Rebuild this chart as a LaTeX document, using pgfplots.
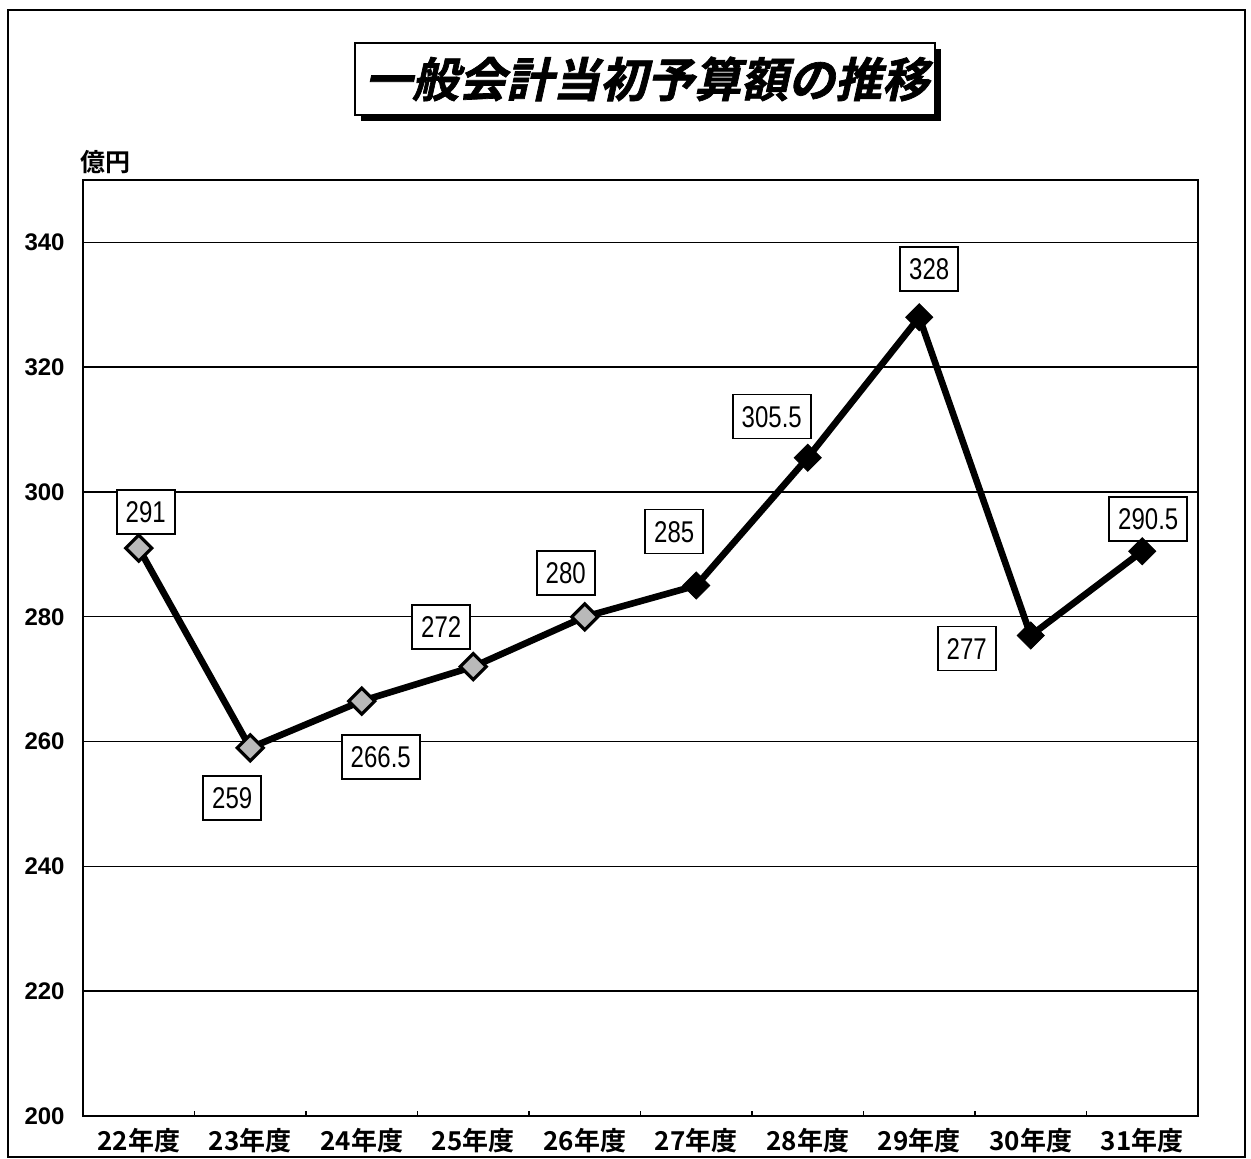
\documentclass[border=0pt]{standalone}
\usepackage{fontspec}
\usepackage{pgfplots}
\pgfplotsset{compat=1.18}
\setmainfont{Liberation Sans}
\newfontfamily\jp{Noto Sans CJK JP Bold}
\newfontfamily\jptitle{Noto Sans CJK JP Bold}[FakeSlant=0.22,FakeBold=1.5]
\newfontfamily\narrow{Liberation Sans}[FakeStretch=0.8]
\begin{document}
\begin{tikzpicture}[x=0.5pt,y=0.5pt]
\path[use as bounding box] (0,0) rectangle (1251,1159);
\draw[line width=1pt] (8,2) rectangle (1245,1149);
\fill[black] (361,1038) rectangle (941,1110);
\draw[line width=0.8pt, fill=white] (355,1044) rectangle (935,1116);
\node[font=\jptitle\fontsize{23.5}{23.5}\selectfont] at (647,1080) {一般会計当初予算額の推移};
\node[anchor=west, inner sep=0pt, font=\jp\fontsize{12.5}{12.5}\selectfont] at (80,997) {億円};
\begin{axis}[
  at={(41.5pt,21.5pt)}, anchor=south west,
  width=557.5pt, height=468pt, scale only axis,
  xmin=-0.5, xmax=9.5, ymin=200, ymax=350,
  ytick={200,220,...,340},
  xtick={0,...,9},
  xticklabels={22年度,23年度,24年度,25年度,26年度,27年度,28年度,29年度,30年度,31年度},
  minor xtick={0.5,1.5,...,8.5},
  xtick pos=bottom, ytick pos=left,
  ymajorgrids,
  major grid style={black, line width=0.7pt},
  major tick length=0pt, minor tick length=2.5pt,
  tick style={black, line width=0.6pt},
  axis line style={line width=1pt},
  /pgf/number format/assume math mode=true,
  yticklabel style={font=\bfseries\fontsize{12}{12}\selectfont, anchor=east, inner sep=0pt, xshift=-9pt},
  xticklabel style={font=\jp\fontsize{13}{13}\selectfont, anchor=base, inner sep=0pt, yshift=-17.5pt},
  clip=false,
]
\addplot[black, line width=3.3pt, line join=round, no marks] coordinates {
(0,291) (1,259) (2,266.5) (3,272) (4,280) (5,285) (6,305.5) (7,328) (8,277) (9,290.5)};
\addplot[only marks, mark=square*, mark size=4.6pt, mark options={rotate=45, fill=gray!55, draw=black, line width=1.6pt}] coordinates {
(0,291) (1,259) (2,266.5) (3,272) (4,280)};
\addplot[only marks, mark=square*, mark size=4.8pt, mark options={rotate=45, fill=black, draw=black}] coordinates {
(5,285) (6,305.5) (7,328) (8,277) (9,290.5)};
\tikzset{lbl/.style={draw=black, line width=0.8pt, fill=white, font=\narrow\fontsize{15}{15}\selectfont, inner xsep=4.5pt, inner ysep=0pt, minimum height=22pt, text height=10.5pt, text depth=0pt}}
\node[lbl, xshift=3.5pt, yshift=18pt] at (axis cs:0,291) {291};
\node[lbl, xshift=-9pt, yshift=-25pt] at (axis cs:1,259) {259};
\node[lbl, xshift=9.5pt, yshift=-28pt] at (axis cs:2,266.5) {266.5};
\node[lbl, xshift=-16pt, yshift=20pt] at (axis cs:3,272) {272};
\node[lbl, xshift=-9.5pt, yshift=22pt] at (axis cs:4,280) {280};
\node[lbl, xshift=-11pt, yshift=27pt] at (axis cs:5,285) {285};
\node[lbl, xshift=-18pt, yshift=20.5pt] at (axis cs:6,305.5) {305.5};
\node[lbl, xshift=5pt, yshift=24pt] at (axis cs:7,328) {328};
\node[lbl, xshift=-32pt, yshift=-6.5pt] at (axis cs:8,277) {277};
\node[lbl, xshift=3pt, yshift=16pt] at (axis cs:9,290.5) {290.5};
\end{axis}
\end{tikzpicture}
\end{document}
